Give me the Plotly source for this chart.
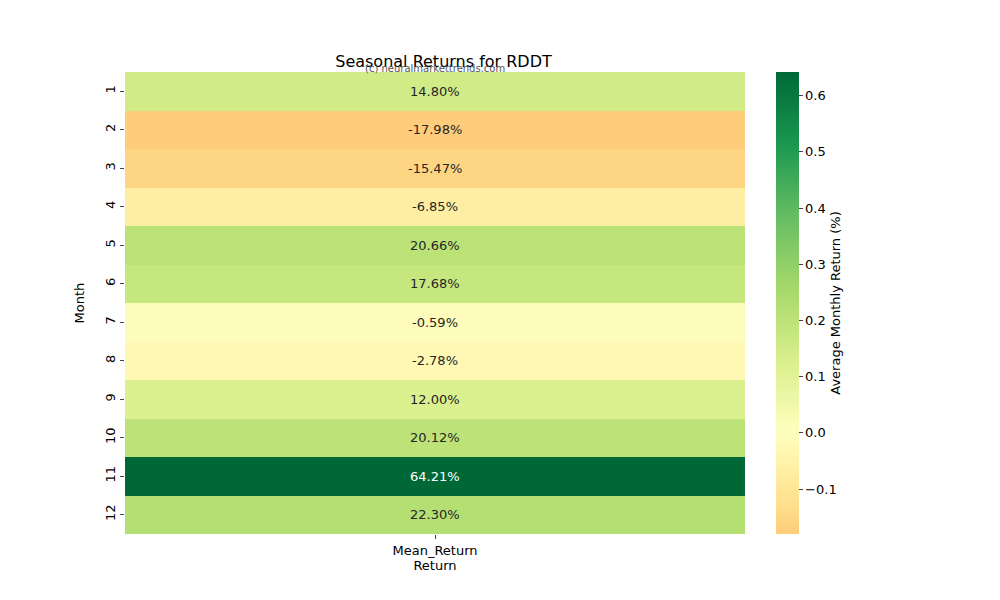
import plotly.graph_objects as go

months = [1,2,3,4,5,6,7,8,9,10,11,12]
mean_return = [0.1480,-0.1798,-0.1547,-0.0685,0.2066,0.1768,-0.0059,-0.0278,0.1200,0.2012,0.6421,0.2230]
column = ["Mean_Return"]

vmin, vmax = min(mean_return), max(mean_return)
vr = max(vmax, -vmin)
stops = ["#a50026","#d73027","#f46d43","#fdae61","#fee08b","#ffffbf","#d9ef8b","#a6d96a","#66bd63","#1a9850","#006837"]
def hx(c): return tuple(int(c[i:i+2],16) for i in (1,3,5))
def cmap(p):
    p = min(max(p,0),1)*10
    i = min(int(p),9); f = p-i
    a, b = hx(stops[i]), hx(stops[i+1])
    return "rgb(%d,%d,%d)" % tuple(round(a[k]+(b[k]-a[k])*f) for k in range(3))
n = 40
scale = []
for j in range(n+1):
    v = vmin + (vmax-vmin)*j/n
    scale.append([j/n, cmap((v+vr)/(2*vr))])

fig = go.Figure(go.Heatmap(
    z=[[v] for v in mean_return], x=column, y=months, colorscale=scale, zmin=vmin, zmax=vmax,
    colorbar=dict(x=1.034, xanchor="left", y=0, yanchor="bottom", len=1, lenmode="fraction", ypad=0,
                  thickness=23, outlinewidth=0, ticks="outside", ticklen=4, tickformat=".1f",
                  tickvals=[-0.1,0,0.1,0.2,0.3,0.4,0.5,0.6],
                  title=dict(text="Average Monthly Return (%)", side="right", font=dict(size=13)),
                  tickfont=dict(size=13))))
for m, v in zip(months, mean_return):
    fig.add_annotation(x=column[0], y=m, text=f"{v*100:.2f}%", showarrow=False,
                       font=dict(size=13, color="white" if v > 0.45 else "#262626"))
fig.add_annotation(xref="paper", yref="paper", x=0.5, y=1.0, yanchor="bottom", yshift=-4,
                   text="(c) neuralmarkettrends.com", showarrow=False, font=dict(size=10, color="#555"))
fig.update_layout(
    width=1000, height=600, margin=dict(l=117, r=263, t=64, b=74),
    plot_bgcolor="white", paper_bgcolor="white",
    font=dict(family="DejaVu Sans", size=13, color="black"),
    title=dict(text="Seasonal Returns for RDDT", x=0.4355, xanchor="center", y=0.902, yanchor="bottom", font=dict(size=16)),
    xaxis=dict(title=dict(text="Return", standoff=4, font=dict(size=13)), ticks="outside", ticklen=4, showgrid=False),
    yaxis=dict(title=dict(text="Month", font=dict(size=13)), autorange="reversed", tickangle=-90, ticks="outside", ticklen=4,
               tickmode="array", tickvals=months, showgrid=False),
)
fig.write_html("out.html")
